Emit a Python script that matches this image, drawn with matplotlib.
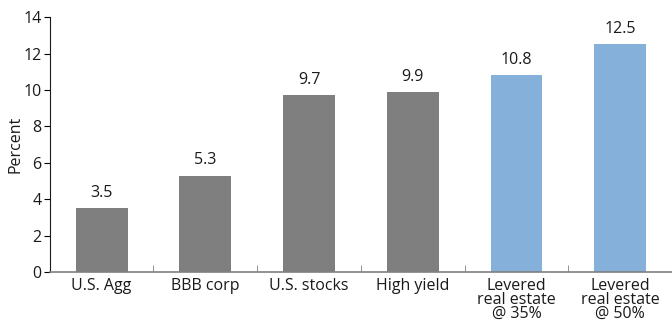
import matplotlib
matplotlib.use("Agg")
import matplotlib.pyplot as plt
import numpy as np

plt.rcParams['font.family'] = ['Open Sans', 'DejaVu Sans']

categories = ["U.S. Agg", "BBB corp", "U.S. stocks", "High yield",
              "Levered\nreal estate\n@ 35%", "Levered\nreal estate\n@ 50%"]
values = [3.5, 5.3, 9.7, 9.9, 10.8, 12.5]
labels = ["3.5", "5.3", "9.7", "9.9", "10.8", "12.5"]
colors = ["#7f7f7f"] * 4 + ["#85b0d9"] * 2

FS = 11.5
fig = plt.figure(figsize=(6.72, 3.36), dpi=100)
ax = fig.add_axes([0.074, 0.19, 0.926, 0.759])
x = np.arange(len(categories))
ax.bar(x, values, width=0.5, color=colors, zorder=2)
for xi, v, l in zip(x, values, labels):
    ax.text(xi, v + 0.4, l, ha='center', va='bottom', fontsize=FS, color='#1a1a1a')

ax.set_xlim(-0.5, len(categories) - 0.5)
ax.set_ylim(0, 14)
ax.set_yticks(np.arange(0, 15, 2))
ax.set_xticks(x)
ax.set_xticklabels(categories, fontsize=FS, linespacing=0.85, color='#1a1a1a')
ax.set_xticks(np.arange(0.5, len(categories) - 0.5, 1), minor=True)
ax.tick_params(axis='x', which='major', length=0, pad=4)
ax.tick_params(axis='x', which='minor', length=5, direction='in', color='#808080')
ax.tick_params(axis='y', length=4, direction='out', labelsize=FS, labelcolor='#1a1a1a', pad=2)
ax.set_ylabel("Percent", fontsize=FS, color='#1a1a1a', labelpad=0)
for s in ['top', 'right']:
    ax.spines[s].set_visible(False)
ax.spines['bottom'].set_color('#808080')
ax.spines['left'].set_color('#1a1a1a')
ax.spines['bottom'].set_linewidth(1.2)

fig.savefig("out.png", dpi=100)
